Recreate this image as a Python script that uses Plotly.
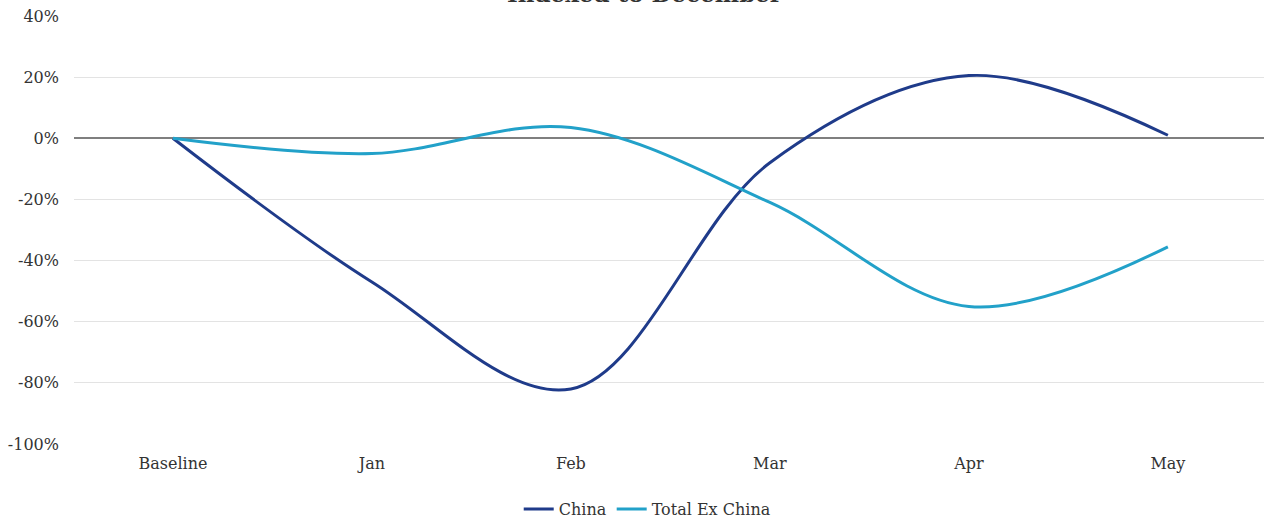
import plotly.graph_objects as go

categories = ["Baseline", "Jan", "Feb", "Mar", "Apr", "May"]
china = [0.0, -0.47, -0.82, -0.08, 0.205, 0.01]
total_ex_china = [0.0, -0.05, 0.035, -0.21, -0.55, -0.355]
y_ticks = [0.4, 0.2, 0.0, -0.2, -0.4, -0.6, -0.8, -1.0]
y_tick_labels = ["40%", "20%", "0%", "-20%", "-40%", "-60%", "-80%", "-100%"]
title_text = "Indexed to December"

FONT = "DejaVu Serif"
x_idx = list(range(len(categories)))

fig = go.Figure()
fig.add_trace(go.Scatter(
    x=x_idx, y=china, name="China", mode="lines",
    line=dict(color="#1f3b8a", width=3, shape="spline", smoothing=1.0),
))
fig.add_trace(go.Scatter(
    x=x_idx, y=total_ex_china, name="Total Ex China", mode="lines",
    line=dict(color="#22a1c9", width=3, shape="spline", smoothing=1.0),
))

fig.update_layout(
    width=1264, height=522,
    margin=dict(l=74, r=0, t=16, b=78, autoexpand=False),
    paper_bgcolor="white", plot_bgcolor="white",
    font=dict(family=FONT, size=16, color="#333333"),
    showlegend=True,
    legend=dict(orientation="h", x=0.4817, xanchor="center", y=-0.152, yanchor="middle",
                font=dict(family=FONT, size=16, color="#333333"),
                itemwidth=30, tracegroupgap=0),
    xaxis=dict(
        range=[-0.497, 5.483], tickmode="array", tickvals=x_idx, ticktext=categories,
        showgrid=False, zeroline=False, showline=False, ticks="",
        tickfont=dict(family=FONT, size=16, color="#333333"),
        ticklabelstandoff=8, ticklabeloverflow="allow",
    ),
    yaxis=dict(
        range=[-1.0, 0.4], tickmode="array", tickvals=y_ticks, ticktext=y_tick_labels,
        showgrid=True, gridcolor="#e3e3e3", gridwidth=1,
        zeroline=True, zerolinecolor="#7f7f7f", zerolinewidth=1.5,
        showline=False, ticks="", ticklabelstandoff=14, ticklabeloverflow="allow",
        tickfont=dict(family=FONT, size=16, color="#333333"),
    ),
    annotations=[dict(
        text="<b>" + title_text + "</b>", xref="paper", yref="paper",
        x=0.48, y=1, xanchor="center", yanchor="bottom", yshift=7, showarrow=False,
        font=dict(family=FONT, size=23, color="#333333"),
    )],
)

fig.write_html("out.html", config={"displayModeBar": False},
               post_script="document.body.style.margin='0';")
